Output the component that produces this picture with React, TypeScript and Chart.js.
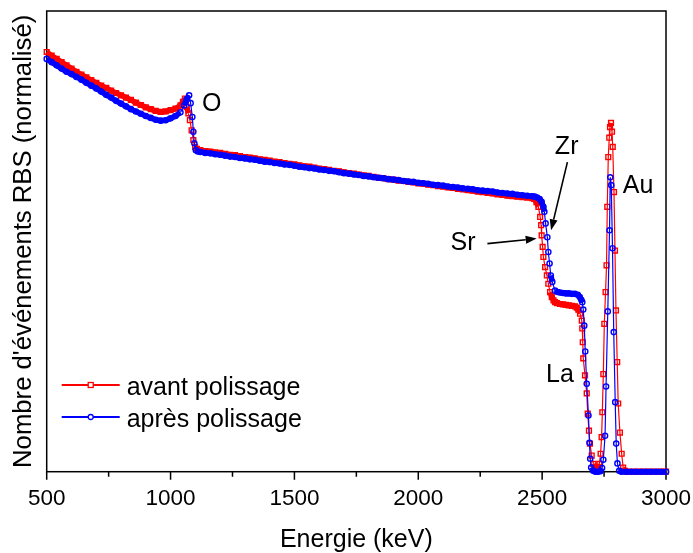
import React, { useEffect, useRef } from 'react';
import { Chart, registerables } from 'chart.js';

Chart.register(...registerables);

const FONT = 'Arial, "Liberation Sans", sans-serif';

// Energies (keV) and normalised RBS counts, "avant polissage"
const energyAvant = [
  500, 520, 540, 560, 580, 600, 620, 640, 660, 680, 700, 720, 740, 760, 780, 800, 820, 840, 860, 880, 900, 920, 940, 960, 980, 1000, 1020, 1040,
  1050, 1058, 1065, 1072, 1078, 1085, 1092, 1099, 1106,
  1120, 1140, 1160, 1180, 1200, 1220, 1240, 1260, 1280, 1300, 1320, 1340, 1360, 1380, 1400, 1420, 1440, 1460, 1480, 1500,
  1520, 1540, 1560, 1580, 1600, 1620, 1640, 1660, 1680, 1700, 1720, 1740, 1760, 1780, 1800, 1820, 1840, 1860, 1880, 1900,
  1920, 1940, 1960, 1980, 2000, 2020, 2040, 2060, 2080, 2100, 2120, 2140, 2160, 2180, 2200, 2220, 2240, 2260, 2280, 2300,
  2320, 2340, 2360, 2380, 2400, 2420, 2440, 2460,
  2468, 2477, 2485, 2492, 2496, 2498, 2502, 2505, 2512, 2519, 2525, 2532, 2539, 2546, 2552, 2560, 2572, 2584, 2596, 2608,
  2620, 2633, 2640, 2646, 2653, 2660, 2662, 2664, 2666, 2673, 2680, 2684, 2689, 2693, 2700, 2707, 2714, 2720, 2726, 2731,
  2736, 2740, 2743, 2747, 2751, 2756, 2760, 2763, 2767, 2771, 2774, 2778, 2782, 2785, 2790, 2794, 2798, 2803, 2807, 2814,
  2821, 2827, 2834, 2840, 2860, 2880, 2900, 2920, 2940, 2960, 2980, 3000,
];
const countsAvant = [
  91.1, 90.3, 89.6, 88.9, 88.2, 87.5, 86.8, 86.2, 85.6, 85.0, 84.4, 83.8, 83.3, 82.7, 82.2, 81.7, 81.2, 80.7, 80.1, 79.6, 79.1, 78.7, 78.3, 78.1, 78.2, 78.5, 78.8, 79.5,
  80.3, 81.0, 79.2, 77.8, 76.3, 74.1, 72.0, 70.5, 70.1,
  69.8, 69.6, 69.5, 69.3, 69.2, 69.0, 68.8, 68.7, 68.5, 68.3, 68.2, 68.0, 67.8, 67.7, 67.5, 67.3, 67.2, 67.0, 66.8, 66.7,
  66.5, 66.3, 66.2, 66.0, 65.8, 65.7, 65.5, 65.3, 65.2, 65.0, 64.8, 64.7, 64.5, 64.3, 64.2, 64.0, 63.8, 63.7, 63.5, 63.4,
  63.2, 63.1, 62.9, 62.8, 62.6, 62.5, 62.3, 62.2, 62.0, 61.9, 61.7, 61.6, 61.4, 61.3, 61.1, 61.0, 60.8, 60.7, 60.5, 60.4,
  60.2, 60.1, 59.9, 59.8, 59.7, 59.6, 59.5, 59.4,
  59.2, 58.5, 57.5, 55.3, 53.5, 51.3, 48.8, 46.6, 44.4, 42.6, 40.8, 39.0, 37.9, 37.2, 36.8, 36.6, 36.4, 36.3, 36.2, 36.1,
  36.0, 35.9, 35.6, 35.2, 34.3, 32.8, 31.1, 28.1, 24.6, 20.9, 17.0, 12.6, 8.9, 6.1, 3.5, 1.7, 0.7, 0.3, 0.5, 1.7,
  3.9, 7.5, 12.9, 21.2, 32.1, 39.0, 44.8, 57.5, 68.3, 72.5, 74.8, 75.7, 73.8, 70.5, 60.7, 48.0, 35.0, 23.8, 14.8, 8.5,
  3.9, 0.9, 0.2, 0, 0, 0, 0, 0, 0, 0, 0, 0,
];

// Energies (keV) and normalised RBS counts, "après polissage"
const energyApres = [
  500, 520, 540, 560, 580, 600, 620, 640, 660, 680, 700, 720, 740, 760, 780, 800, 820, 840, 860, 880, 900, 920, 940, 960, 980, 1000, 1020, 1040,
  1055, 1065, 1075, 1081, 1088, 1092, 1096, 1102, 1110,
  1120, 1140, 1160, 1180, 1200, 1220, 1240, 1260, 1280, 1300, 1320, 1340, 1360, 1380, 1400, 1420, 1440, 1460, 1480, 1500,
  1520, 1540, 1560, 1580, 1600, 1620, 1640, 1660, 1680, 1700, 1720, 1740, 1760, 1780, 1800, 1820, 1840, 1860, 1880, 1900,
  1920, 1940, 1960, 1980, 2000, 2020, 2040, 2060, 2080, 2100, 2120, 2140, 2160, 2180, 2200, 2220, 2240, 2260, 2280, 2300,
  2320, 2340, 2360, 2380, 2400, 2420, 2440, 2460,
  2470, 2480, 2490, 2498, 2505, 2509, 2514, 2521, 2525, 2530, 2535, 2541, 2552, 2562, 2572, 2584, 2596, 2608, 2620, 2632,
  2644, 2652, 2658, 2662, 2666, 2670, 2674, 2680, 2687, 2691, 2694, 2698, 2706, 2715, 2725, 2735, 2742, 2747, 2754, 2758,
  2765, 2772, 2775, 2779, 2784, 2789, 2795, 2799, 2804, 2811, 2820, 2840, 2860, 2880, 2900, 2920, 2940, 2960, 2980, 3000,
];
const countsApres = [
  89.6, 88.9, 88.2, 87.5, 86.8, 86.3, 85.7, 85.1, 84.4, 83.8, 83.2, 82.5, 81.8, 81.2, 80.5, 79.9, 79.3, 78.7, 78.2, 77.7, 77.2, 76.8, 76.4, 76.2, 76.3, 76.7, 77.2, 78.0,
  79.5, 80.9, 81.7, 80.0, 77.0, 73.8, 71.3, 69.8, 69.5,
  69.4, 69.2, 69.1, 68.9, 68.8, 68.6, 68.4, 68.3, 68.1, 68.0, 67.8, 67.7, 67.5, 67.3, 67.2, 67.0, 66.9, 66.7, 66.6, 66.4,
  66.2, 66.1, 65.9, 65.8, 65.6, 65.5, 65.3, 65.2, 65.0, 64.8, 64.7, 64.5, 64.4, 64.2, 64.1, 63.9, 63.8, 63.7, 63.5, 63.4,
  63.3, 63.1, 63.0, 62.9, 62.7, 62.6, 62.5, 62.3, 62.2, 62.1, 61.9, 61.8, 61.7, 61.5, 61.4, 61.3, 61.1, 61.0, 60.9, 60.8,
  60.6, 60.5, 60.4, 60.3, 60.1, 60.0, 59.9, 59.8,
  59.7, 59.5, 59.2, 58.6, 57.5, 56.4, 53.9, 50.9, 47.7, 45.2, 42.6, 41.2, 39.3, 39.0, 38.9, 38.8, 38.7, 38.7, 38.6, 38.6,
  38.4, 37.9, 37.3, 36.8, 35.2, 31.7, 26.1, 19.1, 12.2, 6.3, 2.8, 0.9, 0.2, 0, 0, 0.1, 0.8, 2.6, 7.8, 18.5,
  34.8, 52.4, 63.9, 62.2, 48.5, 30.3, 15.1, 6.1, 1.8, 0.2, 0, 0, 0, 0, 0, 0, 0, 0, 0, 0,
];

const seriesLabels = ['avant polissage', 'après polissage'];
const seriesColors = ['#ff0000', '#0000ff'];

const xMajorTicks = [500, 1000, 1500, 2000, 2500, 3000];
const xMinorTicks = [750, 1250, 1750, 2250, 2750];

// Element labels (position in data units)
const peakLabels = ['O', 'Zr', 'Sr', 'Au', 'La'];
const peakLabelEnergy = [1166, 2599, 2181, 2887, 2572];
const peakLabelCount = [79.8, 70.5, 49.6, 62.0, 20.9];

// Arrows (data units)
const arrowFromEnergy = [2602, 2279];
const arrowFromCount = [67.2, 49.5];
const arrowToEnergy = [2536, 2478];
const arrowToCount = [52.4, 50.6];

const framePlugin = {
  id: 'frame',
  beforeDatasetsDraw(chart: any) {
    const { ctx, chartArea: a, scales } = chart;
    const x = scales.x;
    ctx.save();
    ctx.strokeStyle = '#000';
    ctx.lineWidth = 1.5;
    ctx.strokeRect(a.left, a.top, a.right - a.left, a.bottom - a.top);
    ctx.beginPath();
    xMajorTicks.forEach((v) => {
      const p = x.getPixelForValue(v);
      ctx.moveTo(p, a.bottom);
      ctx.lineTo(p, a.bottom + 8);
    });
    xMinorTicks.forEach((v) => {
      const p = x.getPixelForValue(v);
      ctx.moveTo(p, a.bottom);
      ctx.lineTo(p, a.bottom + 5);
    });
    ctx.stroke();
    ctx.restore();
  },
  afterDraw(chart: any) {
    const { ctx, chartArea: a, scales } = chart;
    const x = scales.x;
    const y = scales.y;
    ctx.save();
    ctx.fillStyle = '#000';
    ctx.font = `25px ${FONT}`;
    ctx.textAlign = 'center';
    ctx.textBaseline = 'middle';
    peakLabels.forEach((t, i) => {
      ctx.fillText(t, x.getPixelForValue(peakLabelEnergy[i]), y.getPixelForValue(peakLabelCount[i]));
    });
    // arrows
    ctx.strokeStyle = '#000';
    ctx.lineWidth = 1.6;
    arrowFromEnergy.forEach((_, i) => {
      const x0 = x.getPixelForValue(arrowFromEnergy[i]);
      const y0 = y.getPixelForValue(arrowFromCount[i]);
      const x1 = x.getPixelForValue(arrowToEnergy[i]);
      const y1 = y.getPixelForValue(arrowToCount[i]);
      const ang = Math.atan2(y1 - y0, x1 - x0);
      const hl = 11;
      const hw = 4;
      const bx = x1 - hl * Math.cos(ang);
      const by = y1 - hl * Math.sin(ang);
      ctx.beginPath();
      ctx.moveTo(x0, y0);
      ctx.lineTo(bx, by);
      ctx.stroke();
      ctx.beginPath();
      ctx.moveTo(x1, y1);
      ctx.lineTo(bx + hw * Math.sin(ang), by - hw * Math.cos(ang));
      ctx.lineTo(bx - hw * Math.sin(ang), by + hw * Math.cos(ang));
      ctx.closePath();
      ctx.fill();
    });
    // legend
    const lx0 = a.left + 15;
    const lx1 = a.left + 73;
    const rows = [a.top + 374, a.top + 406];
    seriesLabels.forEach((lbl, i) => {
      const ly = rows[i];
      ctx.strokeStyle = seriesColors[i];
      ctx.lineWidth = 2;
      ctx.beginPath();
      ctx.moveTo(lx0, ly);
      ctx.lineTo(lx1, ly);
      ctx.stroke();
      const mx = (lx0 + lx1) / 2;
      ctx.fillStyle = '#fff';
      ctx.lineWidth = 1.3;
      if (i === 0) {
        ctx.fillRect(mx - 2.5, ly - 2.5, 5, 5);
        ctx.strokeRect(mx - 2.5, ly - 2.5, 5, 5);
      } else {
        ctx.beginPath();
        ctx.arc(mx, ly, 2.5, 0, Math.PI * 2);
        ctx.fill();
        ctx.stroke();
      }
      ctx.fillStyle = '#000';
      ctx.font = `25px ${FONT}`;
      ctx.textAlign = 'left';
      ctx.textBaseline = 'alphabetic';
      ctx.fillText(lbl, a.left + 80, ly + 10);
    });
    ctx.restore();
  },
};

const segWidth = (c: any) => {
  const d = Math.hypot(c.p1.x - c.p0.x, c.p1.y - c.p0.y);
  return d < 7 ? 5.5 : 1.2;
};

export default function App() {
  const ref = useRef<HTMLCanvasElement | null>(null);
  useEffect(() => {
    if (!ref.current) return;
    const chart = new Chart(ref.current, {
      type: 'line',
      data: {
        datasets: [
          {
            label: seriesLabels[0],
            data: energyAvant.map((e, i) => ({ x: e, y: countsAvant[i] })),
            borderColor: seriesColors[0],
            backgroundColor: seriesColors[0],
            borderWidth: 1.2,
            pointStyle: 'rect',
            pointRadius: 3.4,
            pointBorderWidth: 1.4,
            pointBorderColor: seriesColors[0],
            pointBackgroundColor: 'rgba(255,255,255,0)',
            segment: { borderWidth: segWidth },
            tension: 0,
            fill: false,
            clip: 8,
            order: 2,
          } as any,
          {
            label: seriesLabels[1],
            data: energyApres.map((e, i) => ({ x: e, y: countsApres[i] })),
            borderColor: seriesColors[1],
            backgroundColor: seriesColors[1],
            borderWidth: 1.2,
            pointStyle: 'circle',
            pointRadius: 2.6,
            pointBorderWidth: 1.4,
            pointBorderColor: seriesColors[1],
            pointBackgroundColor: 'rgba(255,255,255,0)',
            segment: { borderWidth: segWidth },
            tension: 0,
            fill: false,
            clip: 8,
            order: 1,
          } as any,
        ],
      },
      options: {
        animation: false,
        responsive: false,
        events: [],
        layout: { padding: { left: 0, top: 11, right: 27, bottom: 0 } },
        plugins: { legend: { display: false }, tooltip: { enabled: false } },
        scales: {
          x: {
            type: 'linear',
            min: 500,
            max: 3000,
            afterBuildTicks: (s: any) => {
              s.ticks = xMajorTicks.map((v) => ({ value: v }));
            },
            afterFit: (s: any) => {
              s.height = 81.3;
              s.paddingLeft = 0;
              s.paddingRight = 0;
            },
            grid: { display: false, drawTicks: false },
            border: { display: false },
            ticks: {
              color: '#000',
              font: { family: FONT, size: 22.5 },
              padding: 14,
              maxRotation: 0,
              autoSkip: false,
              callback: (v: any) => String(v),
            },
            title: {
              display: true,
              text: 'Energie (keV)',
              color: '#000',
              font: { family: FONT, size: 25, lineHeight: 1.2 },
              padding: { top: 0, bottom: -2 },
            },
          },
          y: {
            min: 0,
            max: 100,
            afterFit: (s: any) => {
              s.width = 46.7;
              s.paddingTop = 0;
              s.paddingBottom = 0;
            },
            grid: { display: false, drawTicks: false },
            border: { display: false },
            ticks: { display: false },
            title: {
              display: true,
              text: "Nombre d'événements RBS (normalisé)",
              color: '#000',
              font: { family: FONT, size: 25.7, lineHeight: 1.2 },
              padding: { top: 8.6, bottom: 0 },
            },
          },
        },
      } as any,
      plugins: [framePlugin],
    });
    return () => chart.destroy();
  }, []);
  return (
    <div style={{ position: 'fixed', left: 0, top: 0, width: 693, height: 553, background: '#fff' }}>
      <canvas ref={ref} width={693} height={553} style={{ display: 'block' }} />
    </div>
  );
}
